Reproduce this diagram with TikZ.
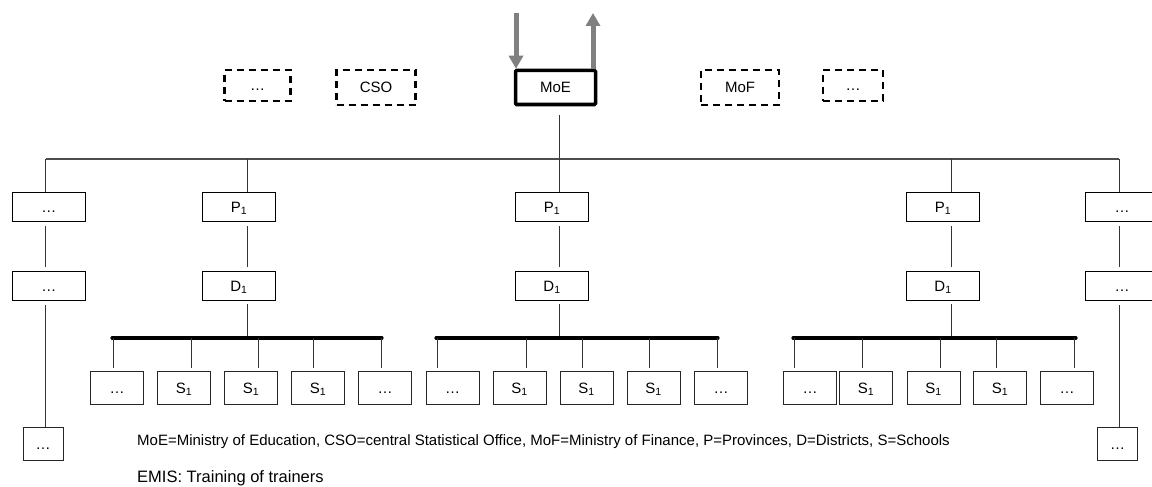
\documentclass[tikz,border=0pt]{standalone}
\usepackage{fontspec}
\setmainfont{Liberation Sans}
\usetikzlibrary{arrows.meta}
\begin{document}
\begin{tikzpicture}[x=1pt,y=-1pt,
  lbl/.style={font=\fontsize{15}{18}\selectfont, text height=10.7pt, text depth=0pt},
  lvlbox/.style={lbl, draw=black, line width=1.3pt, minimum width=73pt, minimum height=29pt, inner sep=0pt},
  schoolbox/.style={lbl, draw=black!85, line width=0.9pt, minimum width=53pt, minimum height=33pt, inner sep=0pt},
  partner/.style={lbl, draw=black, line width=2.6pt, dash pattern=on 7pt off 5pt, inner sep=0pt},
  leadbox/.style={lbl, draw=black, line width=3.5pt, minimum width=80pt, minimum height=34pt, inner sep=0pt, rounded corners=1pt},
  conn/.style={draw=black!80, line width=1pt},
  mainbar/.style={draw=black!70, line width=2pt},
  bus/.style={draw=black, line width=3.2pt, line cap=round},
  flow/.style={draw=black!50, line width=5pt, -{Triangle[width=14pt,length=13pt]}}
]
\useasboundingbox (0,0) rectangle (1152,487);

% ---- top level: ministry and partner offices
\node[partner, minimum width=66pt, minimum height=31pt] (po1) at (257.5,85.5) {\dots};
\node[partner, minimum width=79pt, minimum height=35pt] (cso) at (376,87.5) {CSO};
\node[leadbox] (moe) at (555.5,87.5) {MoE};
\node[partner, minimum width=78pt, minimum height=35pt] (mof) at (740,87.5) {MoF};
\node[partner, minimum width=60pt, minimum height=31pt] (po2) at (853,85.5) {\dots};

% information flowing into and out of the ministry
\coordinate (inflow) at (516,13);
\coordinate (outflow) at (593,13);
\draw[flow] (inflow) -- (inflow |- moe.north);
\draw[flow] (outflow |- moe.north) -- (outflow);

% ---- provinces
\node[lvlbox] (pa) at (49,207) {\dots};
\node[lvlbox] (pb) at (239,207) {P\textsubscript{1}};
\node[lvlbox] (pc) at (552,207) {P\textsubscript{1}};
\node[lvlbox] (pd) at (943,207) {P\textsubscript{1}};
\node[lvlbox] (pe) at (1122,207) {\dots};

% ---- districts
\node[lvlbox] (da) at (49,286) {\dots};
\node[lvlbox] (db) at (239,286) {D\textsubscript{1}};
\node[lvlbox] (dc) at (552,286) {D\textsubscript{1}};
\node[lvlbox] (dd) at (943,286) {D\textsubscript{1}};
\node[lvlbox] (de) at (1122,286) {\dots};

% ---- schools at the far ends
\node[schoolbox, minimum width=40pt] (sa) at (43,444) {\dots};
\node[schoolbox, minimum width=40pt] (se) at (1117.5,444) {\dots};

% ---- school rows under each district
\node[schoolbox] (b1) at (117,388) {\dots};
\node[schoolbox] (b2) at (184,388) {S\textsubscript{1}};
\node[schoolbox] (b3) at (251,388) {S\textsubscript{1}};
\node[schoolbox] (b4) at (318,388) {S\textsubscript{1}};
\node[schoolbox] (b5) at (385,388) {\dots};

\node[schoolbox] (c1) at (452.5,388) {\dots};
\node[schoolbox] (c2) at (519.5,388) {S\textsubscript{1}};
\node[schoolbox] (c3) at (586.5,388) {S\textsubscript{1}};
\node[schoolbox] (c4) at (653.5,388) {S\textsubscript{1}};
\node[schoolbox] (c5) at (721,388) {\dots};

\node[schoolbox] (d1) at (810,388) {\dots};
\node[schoolbox] (d2) at (866,388) {S\textsubscript{1}};
\node[schoolbox] (d3) at (933.5,388) {S\textsubscript{1}};
\node[schoolbox] (d4) at (1000,388) {S\textsubscript{1}};
\node[schoolbox] (d5) at (1067,388) {\dots};

% ---- main distribution bar
\coordinate (trunk) at (559.5,159);
\coordinate (barL) at (45.5,159);
\coordinate (barR) at (1119,159);
\coordinate (xb) at (247,159);
\coordinate (xd) at (951,159);
\draw[conn] ([yshift=-9pt]moe.south -| trunk) -- (trunk);
\draw[mainbar] (barL) -- (barR);
\draw[conn] (barL) -- (pa.north -| barL);
\draw[conn] (xb) -- (pb.north -| xb);
\draw[conn] (trunk) -- (pc.north -| trunk);
\draw[conn] (xd) -- (pd.north -| xd);
\draw[conn] (barR) -- (pe.north -| barR);

% province to district
\draw[conn] ([yshift=-4pt]pa.south -| barL) -- ([yshift=4pt]da.north -| barL);
\draw[conn] ([yshift=-4pt]pb.south -| xb) -- ([yshift=4pt]db.north -| xb);
\draw[conn] ([yshift=-4pt]pc.south -| trunk) -- ([yshift=4pt]dc.north -| trunk);
\draw[conn] ([yshift=-4pt]pd.south -| xd) -- ([yshift=4pt]dd.north -| xd);
\draw[conn] ([yshift=-4pt]pe.south -| barR) -- ([yshift=4pt]de.north -| barR);

% outer branches run straight down to a school
\draw[conn] ([yshift=-4pt]da.south -| barL) -- (sa.north -| barL);
\draw[conn] ([yshift=-4pt]de.south -| barR) -- (se.north -| barR);

% ---- district buses
\coordinate (busB) at (247,338);
\coordinate (busC) at (559.5,338);
\coordinate (busD) at (951,338);
\draw[conn] ([yshift=-3pt]db.south -| busB) -- (busB);
\draw[conn] ([yshift=-3pt]dc.south -| busC) -- (busC);
\draw[conn] ([yshift=-3pt]dd.south -| busD) -- (busD);
\draw[bus] (112,338) -- (382,338);
\draw[bus] (436,338) -- (718,338);
\draw[bus] (793,338) -- (1076,338);

% stubs from the buses to the schools
\foreach \n/\x in {b1/113,b2/191,b3/258,b4/313,b5/381,
                   c1/437,c2/526,c3/582,c4/649,c5/717,
                   d1/794,d2/862,d3/940,d4/996,d5/1074}
  \draw[conn] (\x,338) -- ([yshift=3pt]\n.north -| \x,0);

% ---- legend
\node[anchor=west, font=\fontsize{15}{18}\selectfont, inner sep=0pt] (legend) at (137,442)
  {MoE=Ministry of Education, CSO=central Statistical Office, MoF=Ministry of Finance, P=Provinces, D=Districts, S=Schools};
\node[anchor=west, font=\fontsize{16.5}{20}\selectfont, inner sep=0pt] (caption) at (137,478)
  {EMIS: Training of trainers};
\end{tikzpicture}
\end{document}
